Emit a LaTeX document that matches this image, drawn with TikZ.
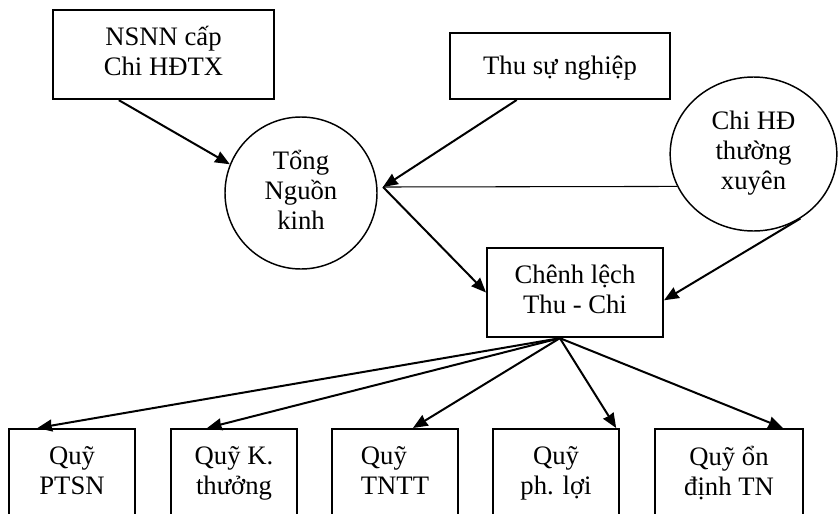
\documentclass[tikz,border=0pt]{standalone}
\usepackage{fontspec}
\setmainfont{Liberation Serif}
\usetikzlibrary{arrows.meta,shapes.geometric,calc}
\newcommand{\chartfont}{\fontsize{20}{22.5}\selectfont\lineskiplimit -20pt\relax}

\begin{document}
\begin{tikzpicture}[
  x=0.75pt, y=-0.75pt,
  every node/.style={font={\chartfont}, align=center, inner sep=0pt,
    execute at begin node={\rule{0pt}{18pt}}, execute at end node={\rule[-5pt]{0pt}{5pt}}},
  box/.style={draw, line width=1.5pt, rectangle},
  fund/.style={box, minimum width=94.5pt, minimum height=67.5pt},
  disc/.style={draw, line width=1.1pt, circle, minimum size=114pt},
  oval/.style={draw, line width=1.1pt, ellipse, minimum width=125pt, minimum height=115.5pt},
  flow/.style={draw, -{Stealth[length=11pt, width=9pt, inset=0.5pt]}, line width=1.5pt},
  link/.style={draw, line width=0.8pt}
]
\clip (0,0) rectangle (839,514);

\node[box, minimum width=166pt, minimum height=67pt] (nsnn) at (163.5,54.5) {NSNN cấp\\Chi HĐTX};
\node[box, minimum width=165pt, minimum height=49.5pt] (thu) at (560,66) {Thu sự nghiệp};
\node[disc] (tong) at (301,193) {Tổng\\Nguồn\\kinh};
\node[oval] (chi) at (753.5,154) {Chi HĐ\\thường\\xuyên};
\node[box, minimum width=132pt, minimum height=67pt] (cl) at (575,292.5) {Chênh lệch\\Thu - Chi};

\node[fund] (q1) at (72,474) {Quỹ\\PTSN};
\node[fund] (q2) at (234,474) {Quỹ K.\\thưởng};
\node[fund, align=left] (q3) at (395,474) {Quỹ\\TNTT};
\node[fund] (q4) at (556,474) {Quỹ\\ph. lợi};
\node[fund, minimum width=111pt] (q5) at (729,474) {Quỹ ổn\\định TN};

\coordinate (j) at (383,187);
\coordinate (fan) at ($(cl.south west)!0.415!(cl.south east)$);

% inflows
\draw[flow] ($(nsnn.south west)!0.3!(nsnn.south east)$) -- (tong.158);
\draw[flow] ($(thu.south west)!0.305!(thu.south east)$) -- (j);
\draw[link] (chi.203.6) -- (j);
\draw[flow] (j) -- (cl.west);
\draw[flow] (chi.-54) -- (cl.355);

% distribution to funds
\draw[flow] (fan) -- ($(q1.north west)!0.23!(q1.north east)$);
\draw[flow] (fan) -- ($(q2.north west)!0.29!(q2.north east)$);
\draw[flow] (fan) -- ($(q3.north west)!0.64!(q3.north east)$);
\draw[flow] (fan) -- ($(q4.north west)!0.97!(q4.north east)$);
\draw[flow] (fan) -- ($(q5.north west)!0.86!(q5.north east)$);

\end{tikzpicture}
\end{document}
